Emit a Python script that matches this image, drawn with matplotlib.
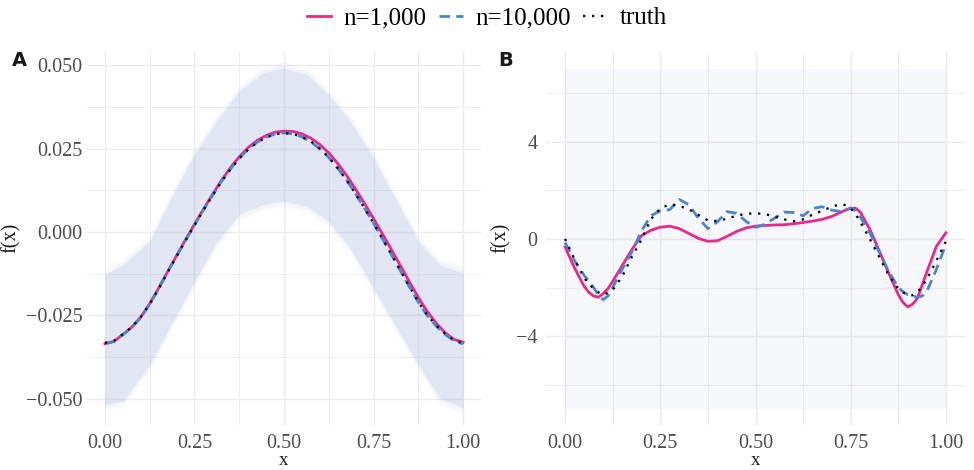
import matplotlib
matplotlib.use("Agg")
import matplotlib.pyplot as plt
from matplotlib.ticker import FixedLocator

plt.rcParams['font.family'] = ['Liberation Serif', 'DejaVu Serif']

# ---------------- data ----------------
# Panel A
xa = [0.000, 0.025, 0.050, 0.075, 0.100, 0.125, 0.150, 0.175, 0.200, 0.225,
      0.250, 0.275, 0.300, 0.325, 0.350, 0.375, 0.400, 0.425, 0.450, 0.475,
      0.500, 0.525, 0.550, 0.575, 0.600, 0.625, 0.650, 0.675, 0.700, 0.725,
      0.750, 0.775, 0.800, 0.825, 0.850, 0.875, 0.900, 0.925, 0.950, 0.975, 1.000]
a_truth = [-0.0332, -0.0326, -0.0306, -0.0285, -0.0255, -0.0216, -0.0170, -0.0121, -0.0073, -0.0026,
           0.0020, 0.0065, 0.0108, 0.0150, 0.0187, 0.0220, 0.0247, 0.0268, 0.0283, 0.0293,
           0.0296, 0.0294, 0.0285, 0.0271, 0.0250, 0.0224, 0.0191, 0.0155, 0.0114, 0.0071,
           0.0026, -0.0020, -0.0067, -0.0115, -0.0163, -0.0209, -0.0249, -0.0280, -0.0305, -0.0324, -0.0333]
a_n10000 = [-0.0334, -0.0328, -0.0308, -0.0286, -0.0256, -0.0216, -0.0169, -0.0120, -0.0072, -0.0025,
            0.0021, 0.0066, 0.0109, 0.0151, 0.0188, 0.0221, 0.0248, 0.0269, 0.0284, 0.0294,
            0.0297, 0.0294, 0.0285, 0.0270, 0.0249, 0.0223, 0.0191, 0.0155, 0.0114, 0.0071,
            0.0026, -0.0021, -0.0068, -0.0116, -0.0164, -0.0210, -0.0250, -0.0282, -0.0307, -0.0326, -0.0335]
a_n1000 = [-0.0335, -0.0328, -0.0307, -0.0285, -0.0255, -0.0215, -0.0168, -0.0119, -0.0071, -0.0023,
           0.0023, 0.0068, 0.0112, 0.0154, 0.0192, 0.0225, 0.0253, 0.0274, 0.0289, 0.0299,
           0.0302, 0.0301, 0.0294, 0.0281, 0.0262, 0.0237, 0.0205, 0.0169, 0.0128, 0.0085,
           0.0040, -0.0006, -0.0053, -0.0101, -0.0149, -0.0196, -0.0238, -0.0273, -0.0302, -0.0322, -0.0330]
a_cloud_x = [0.000, 0.050, 0.125, 0.190, 0.250, 0.310, 0.375, 0.440, 0.500,
             0.565, 0.625, 0.685, 0.750, 0.815, 0.875, 0.935, 1.000]
a_cloud_hi = [-0.0128, -0.0098, -0.0028, 0.0112, 0.0232, 0.0331, 0.0421, 0.0476, 0.0491,
              0.0471, 0.0411, 0.0331, 0.0222, 0.0092, -0.0028, -0.0098, -0.0123]
a_cloud_lo = [-0.0517, -0.0507, -0.0397, -0.0267, -0.0148, -0.0033, 0.0052, 0.0082, 0.0092,
              0.0077, 0.0032, -0.0048, -0.0168, -0.0287, -0.0397, -0.0497, -0.0527]

# Panel B
xb = [0.0000, 0.0250, 0.0500, 0.0625, 0.0750, 0.0875, 0.1000, 0.1125, 0.1250,
      0.1500, 0.1750, 0.2000, 0.2250, 0.2500, 0.2750, 0.3000, 0.3250, 0.3500, 0.3750,
      0.4000, 0.4250, 0.4500, 0.4750, 0.5000, 0.5250, 0.5500, 0.5750, 0.6000, 0.6250,
      0.6500, 0.6750, 0.7000, 0.7250, 0.7375, 0.7500, 0.7625, 0.7750, 0.8000, 0.8250,
      0.8500, 0.8750, 0.8875, 0.9000, 0.9125, 0.9250, 0.9375, 0.9500, 0.9750, 1.0000]
b_truth = [0.00, -0.85, -1.60, -1.85, -2.05, -2.20, -2.30, -2.22, -2.10,
           -1.55, -0.75, -0.05, 0.80, 1.25, 1.42, 1.35, 1.22, 0.98, 0.76,
           0.73, 0.83, 0.95, 1.03, 1.05, 1.02, 0.92, 0.80, 0.72, 0.80,
           1.00, 1.15, 1.32, 1.43, 1.38, 1.25, 1.02, 0.70, 0.00, -0.75,
           -1.50, -2.05, -2.20, -2.30, -2.32, -2.20, -1.95, -1.65, -0.90, -0.10]
b_n10000 = [-0.15, -0.90, -1.50, -1.75, -2.00, -2.30, -2.50, -2.35, -2.00,
            -1.25, -0.55, 0.30, 0.95, 1.15, 1.20, 1.62, 1.40, 0.85, 0.42,
            0.70, 1.12, 1.05, 0.72, 0.47, 0.60, 0.85, 1.10, 1.08, 0.95,
            1.25, 1.32, 1.18, 1.12, 1.20, 1.27, 1.15, 0.90, 0.25, -0.55,
            -1.35, -2.00, -2.18, -2.30, -2.36, -2.40, -2.35, -2.15, -1.25, -0.22]
b_n1000 = [-0.33, -1.20, -1.95, -2.20, -2.35, -2.40, -2.25, -2.05, -1.75,
           -1.10, -0.45, 0.12, 0.35, 0.48, 0.52, 0.42, 0.22, 0.02, -0.10,
           -0.08, 0.10, 0.30, 0.45, 0.52, 0.55, 0.57, 0.58, 0.62, 0.67,
           0.73, 0.80, 0.92, 1.10, 1.19, 1.25, 1.26, 1.10, 0.40, -0.50,
           -1.42, -2.30, -2.62, -2.80, -2.68, -2.45, -1.90, -1.35, -0.30, 0.25]
b_cloud_x = [0.0, 1.0]
b_cloud_hi = [7.0, 7.0]
b_cloud_lo = [-7.0, -7.0]

x_ticks = [0.00, 0.25, 0.50, 0.75, 1.00]
x_ticklabels = ["0.00", "0.25", "0.50", "0.75", "1.00"]
a_yticks = [-0.050, -0.025, 0.000, 0.025, 0.050]
a_yticklabels = ["\u22120.050", "\u22120.025", "0.000", "0.025", "0.050"]
b_yticks = [-4, 0, 4]
b_yticklabels = ["\u22124", "0", "4"]

labels = ["n=1,000", "n=10,000", "truth"]

# ---------------- styling ----------------
C_PINK = "#E7298A"
C_BLUE = "#4A86C8"
C_BLACK = "#111111"
C_CLOUD = "#A4AAD8"
GRID = "#EBEBEB"
TICKC = "#4D4D4D"

fig = plt.figure(figsize=(9.74, 4.70), dpi=100)
axA = fig.add_axes([87/974, 1-425/470, (481-87)/974, (425-51)/470])
axB = fig.add_axes([546/974, 1-425/470, (965-546)/974, (425-51)/470])


def style(ax, yt, ytl, yminor):
    for s in ax.spines.values():
        s.set_visible(False)
    ax.set_xticks(x_ticks)
    ax.set_xticklabels(x_ticklabels)
    ax.set_yticks(yt)
    ax.set_yticklabels(ytl)
    ax.xaxis.set_minor_locator(FixedLocator([0.125, 0.375, 0.625, 0.875]))
    ax.yaxis.set_minor_locator(FixedLocator(yminor))
    ax.tick_params(which='both', length=0, colors=TICKC, labelsize=14.5)
    ax.tick_params(axis='y', pad=3)
    ax.tick_params(axis='x', pad=6.5)
    ax.grid(which='major', color=GRID, lw=1.0)
    ax.grid(which='minor', color=GRID, lw=0.6)
    ax.set_axisbelow(True)
    ax.set_xlim(-0.05, 1.05)
    ax.set_xlabel("x", fontsize=13.5, color="#1A1A1A", labelpad=-0.5)
    ax.set_ylabel("f(x)", fontsize=14.5, color="#1A1A1A", labelpad=4)


def curves(ax, x, y1, y2, y3):
    l1, = ax.plot(x, y1, color=C_PINK, lw=2.0, solid_joinstyle='round', zorder=3)
    l2, = ax.plot(x, y2, color=C_BLUE, lw=2.0, linestyle=(0, (3.8, 2.2)),
                  dash_joinstyle='round', zorder=4)
    l3, = ax.plot(x, y3, color=C_BLACK, lw=1.7, linestyle=(0, (1, 2.8)), zorder=5)
    return [l1, l2, l3]


# Panel A
style(axA, a_yticks, a_yticklabels, [-0.0375, -0.0125, 0.0125, 0.0375])
axA.set_ylim(-0.0578, 0.0542)
axA.fill_between(a_cloud_x, a_cloud_lo, a_cloud_hi, color=C_CLOUD, alpha=0.20, lw=0, zorder=1)
for pad_, al in [(0.0010, 0.07), (0.0020, 0.05)]:
    axA.fill_between(a_cloud_x, [v - pad_ for v in a_cloud_lo], [v + pad_ for v in a_cloud_hi],
                     color=C_CLOUD, alpha=al, lw=0, zorder=1)
handles = curves(axA, xa, a_n1000, a_n10000, a_truth)

# Panel B
style(axB, b_yticks, b_yticklabels, [-6, -2, 2, 6])
axB.set_ylim(-7.65, 7.72)
axB.fill_between(b_cloud_x, b_cloud_lo, b_cloud_hi, color=C_CLOUD, alpha=0.09, lw=0, zorder=1)
curves(axB, xb, b_n1000, b_n10000, b_truth)
axB.tick_params(axis='y', pad=6)

# panel tags
fig.text(12/974, 1-61/470, "A", family=['DejaVu Sans'], weight='bold',
         fontsize=14, va='center', ha='left', color="#1A1A1A")
fig.text(498/974, 1-60/470, "B", family=['DejaVu Sans'], weight='bold',
         fontsize=14, va='center', ha='left', color="#1A1A1A")

fig.legend(handles, labels, loc='center', bbox_to_anchor=(0.5, 1-18/470), ncol=3,
           frameon=False, fontsize=18, handlelength=0.95, handletextpad=0.5,
           columnspacing=0.5, borderaxespad=0)

fig.savefig("out.png", dpi=100)
